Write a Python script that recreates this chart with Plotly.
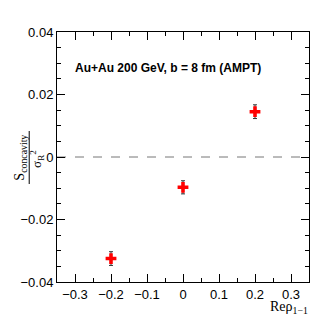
import plotly.graph_objects as go

# Re rho_{1-1} punkter och S_concavity / sigma_R^2
re_rho = [-0.2, 0.0, 0.2]
s_norm = [-0.0325, -0.0097, 0.0145]
s_fel = [0.0022, 0.0021, 0.0022]

x_ticks = [-0.3, -0.2, -0.1, 0.0, 0.1, 0.2, 0.3]
y_ticks = [-0.04, -0.02, 0.0, 0.02, 0.04]

FONT = "Liberation Sans, Arial, sans-serif"
SERIF = "Liberation Serif, Times New Roman, serif"

# sidan har 8 px marginal i body, så figuren görs mindre
OFF = 8
W, H = 324, 312
# plottyta i skärmpixlar: vänster 46, topp 32, höger 309, botten 282
L, T = 46 - OFF, 32 - OFF
R, B = W - (309 - OFF), H - (282 - OFF)
PW, PH = W - L - R, H - T - B


def px_x(p):
    return (p - OFF - L) / PW


def px_y(p):
    return (H - B - (p - OFF)) / PH


fig = go.Figure()

fig.add_trace(go.Scatter(
    x=re_rho,
    y=s_norm,
    mode="markers",
    marker=dict(symbol="cross", size=9, color="#ff0000", line=dict(width=0)),
    error_y=dict(type="data", array=s_fel, color="#333333", thickness=1, width=2),
    showlegend=False,
))

# streckad nollinje
fig.add_shape(type="line", xref="x", yref="y", x0=-0.35, x1=0.35, y0=0, y1=0,
              line=dict(color="#777777", width=1, dash="dash"), layer="below")

axis_common = dict(
    showline=True, linecolor="black", linewidth=1, mirror="allticks",
    ticks="inside", tickcolor="black", showgrid=False, zeroline=False,
    tickfont=dict(family=FONT, size=13, color="black"),
)

fig.update_xaxes(
    range=[-0.35, 0.35], tickvals=x_ticks, ticklen=8,
    minor=dict(dtick=0.05, ticklen=4, ticks="inside", tickcolor="black", showgrid=False),
    **axis_common,
)
fig.update_yaxes(
    range=[-0.04, 0.04], tickvals=y_ticks, ticklen=8,
    minor=dict(dtick=0.005, ticklen=4, ticks="inside", tickcolor="black", showgrid=False),
    **axis_common,
)


def text(xp, yp, s, font, size, angle=0, xanchor="center", bold=False):
    fig.add_annotation(xref="paper", yref="paper", x=px_x(xp), y=px_y(yp),
                       xanchor=xanchor, yanchor="middle", textangle=angle,
                       text=f"<b>{s}</b>" if bold else s, showarrow=False,
                       font=dict(family=font, size=size, color="black"))


# text i figuren
text(162, 68, "Au+Au 200 GeV, b = 8 fm (AMPT)", FONT, 12, bold=True)

# x-axelns titel
text(310, 307, "Reρ<sub>1−1</sub>", SERIF, 14, xanchor="right")

# y-axelns titel som bråk
text(7, 158, "S<sub>concavity</sub>", SERIF, 14, angle=-90)
fig.add_shape(type="line", xref="paper", yref="paper",
              x0=px_x(17), x1=px_x(17), y0=px_y(131), y1=px_y(184),
              line=dict(color="black", width=1))
text(25, 159, "σ<sub>R</sub><sup>2</sup>", SERIF, 13, angle=-90)

fig.update_layout(
    width=W, height=H,
    margin=dict(l=L, r=R, t=T, b=B),
    paper_bgcolor="white", plot_bgcolor="white",
    font=dict(family=FONT, color="black"),
)

fig.write_html("out.html")
